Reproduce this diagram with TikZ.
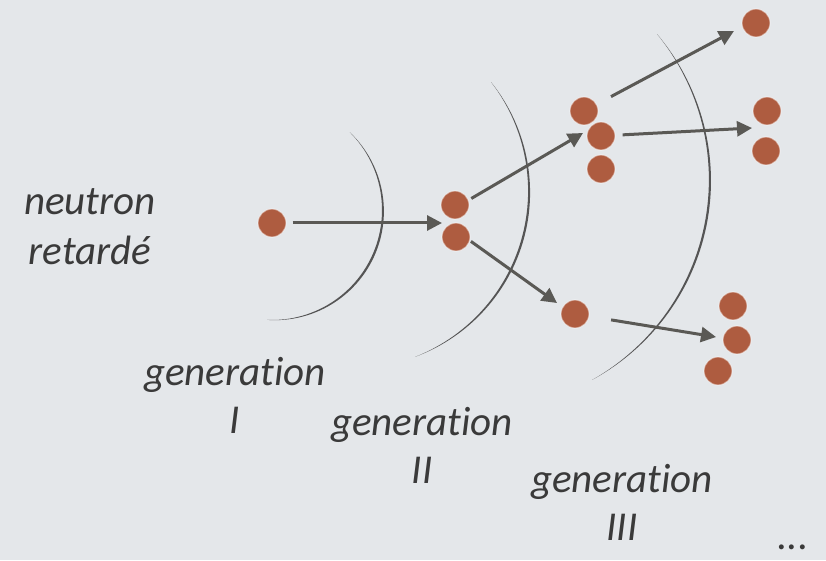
\documentclass[tikz,border=0pt]{standalone}
\usepackage{fontspec}
\setmainfont{Carlito}[Ligatures={NoCommon}]
\usetikzlibrary{arrows.meta,calc}
\definecolor{bgc}{RGB}{228,231,234}
\definecolor{ballc}{RGB}{174,92,64}
\definecolor{arrc}{RGB}{90,89,85}
\definecolor{txtc}{RGB}{58,58,58}
\definecolor{arcc}{RGB}{85,85,85}
\newcommand\taperarc[6]{%
  \fill[arcc] plot[domain=#5:#4,samples=60,variable=\t]
    ({#1+(#3+#6*sin((\t-(#5))/((#4)-(#5))*180))*cos(\t)},{#2+(#3+#6*sin((\t-(#5))/((#4)-(#5))*180))*sin(\t)})
    -- plot[domain=#4:#5,samples=60,variable=\t] ({#1+#3*cos(\t)},{#2+#3*sin(\t)}) -- cycle;}
\begin{document}
\begin{tikzpicture}[x=1pt,y=1pt,
  ball/.style={circle,fill=ballc,draw=white,draw opacity=0.45,line width=1.2pt,minimum size=28pt,inner sep=0pt},
  arr/.style={draw=arrc,line width=3pt,-{Triangle[length=15pt,width=15pt]}},
  lab/.style={text=txtc,font=\fontsize{41}{48}\selectfont\itshape,inner sep=0pt,anchor=base}]
\fill[bgc] (0,0) rectangle (826,560);
\useasboundingbox (0,0) rectangle (826,560);
% wavefronts
\taperarc{272}{350}{110}{45}{-92.6}{2.2}
\taperarc{349.7}{369.1}{178.4}{37.6}{-68.5}{2.2}
\taperarc{478.7}{380.4}{230.2}{39.2}{-60.5}{2.2}
% neutrons
\node[ball] (A)  at (272,337) {};
\node[ball] (B1) at (455,355) {};
\node[ball] (B2) at (456,323) {};
\node[ball] (C)  at (575,246) {};
\node[ball] (D1) at (584,449) {};
\node[ball] (D2) at (601,424) {};
\node[ball] (D3) at (601,391) {};
\node[ball] (E)  at (756,537) {};
\node[ball] (F1) at (767,449) {};
\node[ball] (F2) at (766,409) {};
\node[ball] (G1) at (733,254) {};
\node[ball] (G2) at (737,220) {};
\node[ball] (G3) at (718,189) {};
% arrow tips
\coordinate (tB) at (442,337);
\coordinate (tD) at (583,427);
\coordinate (tC) at (557,257);
\coordinate (tE) at (734,529);
\coordinate (tF) at (752,432);
\coordinate (tG) at (716,223);
\draw[arr,shorten <=6pt] (A) -- (tB);
\draw[arr,shorten <=3pt] (B1.20) -- (tD);
\draw[arr,shorten <=1pt] (B2.-15) -- (tC);
\draw[arr,shorten <=16pt] (D1) -- (tE);
\draw[arr,shorten <=7pt] (D2) -- (tF);
\draw[arr,shorten <=22pt] (C) -- (tG);
% labels
\node[lab] (n1) at (90,345) {neutron};
\node[lab] (n2) at (90,295) {retardé};
\node[lab] (g1) at (235,175) {generation};
\node[lab] (r1) at (235,127) {I};
\node[lab] (g2) at (422,125) {generation};
\node[lab] (r2) at (422,77) {II};
\node[lab] (g3) at (622,68) {generation};
\node[lab] (r3) at (622,20) {III};
\node[lab] (dots) at (793,11) {...};
\end{tikzpicture}
\end{document}
